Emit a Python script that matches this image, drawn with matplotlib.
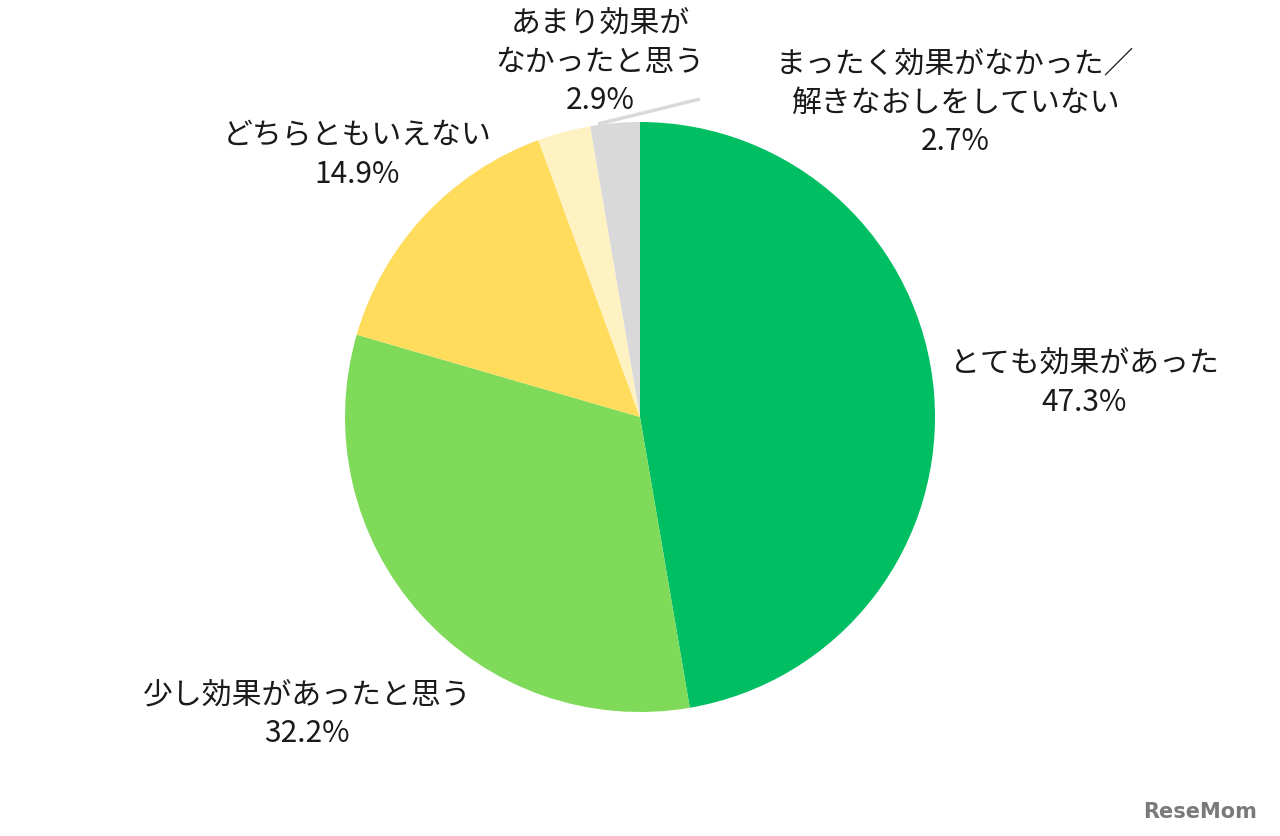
import matplotlib
matplotlib.use("Agg")
import matplotlib.pyplot as plt

plt.rcParams['font.family'] = ['Noto Sans CJK JP', 'DejaVu Sans']

labels = ["とても効果があった", "少し効果があったと思う", "どちらともいえない",
          "あまり効果が\nなかったと思う", "まったく効果がなかった／\n解きなおしをしていない"]
values = [47.3, 32.2, 14.9, 2.9, 2.7]
colors = ["#00BE62", "#80DA5A", "#FFDC5B", "#FFF2C2", "#D9D9D9"]

W, H = 1280, 837
fig = plt.figure(figsize=(W / 100, H / 100), dpi=100)
ax = fig.add_axes([0, 0, 1, 1])

cx, cy, r = 640, H - 418, 295
ax.pie(values, colors=colors, startangle=90, counterclock=False,
       center=(cx, cy), radius=r, frame=True,
       wedgeprops=dict(linewidth=0))
ax.set_xlim(0, W)
ax.set_ylim(0, H)
ax.set_aspect('equal')
ax.axis('off')

label_pos = [(1084, H - 383), (307, H - 714), (357, H - 155), (600, H - 62), (955, H - 103)]
for lab, v, (x, y) in zip(labels, values, label_pos):
    ax.text(x, y, f"{lab}\n{v}%", ha='center', va='center', fontsize=21.5,
            linespacing=1.33, color='#1a1a1a')

# leader line for the last slice
ax.plot([598, 700], [H - 125, H - 100], color='#D9D9D9', lw=2.5, solid_capstyle='butt')

ax.text(1200, H - 812, "ReseMom", ha='center', va='center', fontsize=15,
        fontweight='bold', color='#7a7a7a', family=['DejaVu Sans'])

fig.savefig("out.png", dpi=100)
